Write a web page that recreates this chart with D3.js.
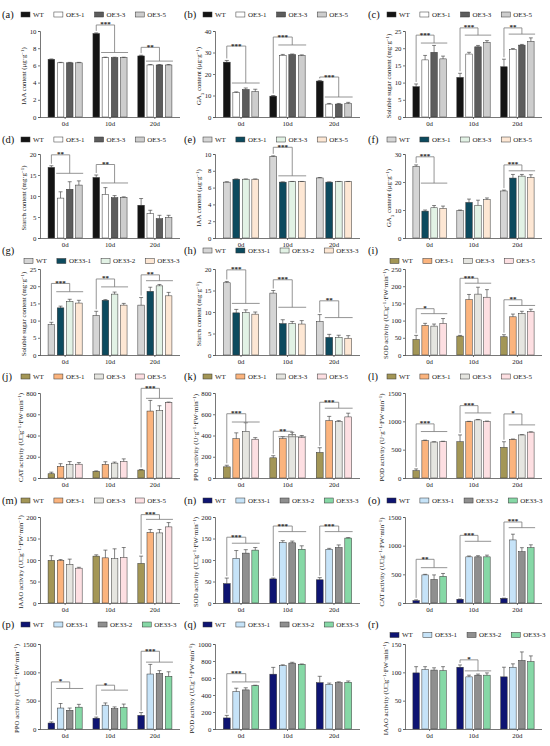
<!DOCTYPE html>
<html>
<head>
<meta charset="utf-8">
<script src="https://cdn.jsdelivr.net/npm/d3@7/dist/d3.min.js"></script>
<style>
  body { margin: 0; background: #fff; }
  svg { display: block; }
  text { font-family: "Liberation Serif", "Times New Roman", serif; }
</style>
</head>
<body>
<svg id="fig" width="550" height="746"></svg>
<script>
// Grupos e linhagens
const days = ["0d", "10d", "20d"];
const linesOE3 = ["WT", "OE3-1", "OE3-3", "OE3-5"];
const linesOE33 = ["WT", "OE33-1", "OE33-2", "OE33-3"];

// Valores por painel: [dia][linhagem]
const iaaGray = [[6.7, 6.3, 6.3, 6.3], [9.7, 6.9, 6.9, 6.9], [7.1, 6.05, 6.05, 6.05]];
const iaaGrayErr = [[0.05, 0.05, 0.05, 0.05], [0.08, 0.05, 0.05, 0.05], [0.08, 0.05, 0.05, 0.05]];
const ga3Gray = [[25.5, 11.3, 12.8, 11.8], [9.7, 28.7, 29.0, 28.6], [16.7, 6.0, 6.0, 6.2]];
const ga3GrayErr = [[0.8, 0.4, 0.7, 1.1], [0.3, 0.4, 0.3, 0.3], [0.3, 0.3, 0.3, 0.6]];
const sugarGray = [[8.8, 16.6, 18.8, 16.9], [11.5, 18.3, 20.4, 21.7], [14.6, 19.6, 20.9, 22.0]];
const sugarGrayErr = [[0.8, 1.3, 2.0, 0.8], [1.2, 0.5, 0.4, 0.5], [2.2, 0.3, 0.2, 1.0]];
const starchGray = [[16.8, 9.5, 11.6, 12.6], [14.4, 10.4, 9.6, 9.7], [7.8, 5.8, 4.6, 4.9]];
const starchGrayErr = [[0.4, 1.5, 1.8, 1.0], [0.6, 1.6, 0.5, 0.1], [1.6, 0.8, 0.8, 0.5]];
const iaaTeal = [[6.65, 7.0, 7.0, 7.0], [9.7, 6.65, 6.7, 6.7], [7.15, 6.65, 6.7, 6.7]];
const iaaTealErr = [[0.05, 0.03, 0.03, 0.03], [0.08, 0.03, 0.03, 0.03], [0.05, 0.03, 0.03, 0.03]];
const ga3Teal = [[25.6, 9.6, 10.8, 10.6], [9.8, 12.7, 11.7, 13.7], [16.8, 21.4, 22.1, 21.6]];
const ga3TealErr = [[0.5, 0.4, 0.8, 0.8], [0.2, 1.2, 1.8, 0.6], [0.3, 1.3, 0.6, 1.0]];
const sugarTeal = [[8.8, 13.7, 15.6, 15.1], [11.5, 15.9, 17.7, 14.5], [14.5, 18.5, 20.1, 17.2]];
const sugarTealErr = [[0.7, 0.5, 0.6, 0.8], [1.2, 0.2, 0.6, 0.5], [2.2, 1.2, 0.4, 1.0]];
const starchTeal = [[16.8, 9.8, 9.9, 9.5], [14.4, 7.3, 7.3, 7.2], [7.8, 4.1, 4.1, 3.9]];
const starchTealErr = [[0.3, 0.8, 0.6, 0.5], [0.6, 0.9, 0.5, 0.8], [1.6, 0.7, 0.5, 0.6]];
const sodOlive = [[45, 86, 84, 92], [55, 161, 177, 168], [53, 111, 121, 127]];
const sodOliveErr = [[12, 6, 6, 14], [2, 15, 20, 22], [6, 8, 6, 6]];
const catOlive = [[40, 110, 125, 130], [62, 128, 140, 155], [75, 630, 635, 710]];
const catOliveErr = [[15, 25, 30, 15], [5, 25, 10, 25], [5, 100, 45, 5]];
const ppoOlive = [[105, 370, 440, 365], [190, 370, 410, 380], [240, 540, 530, 575]];
const ppoOliveErr = [[15, 55, 80, 15], [20, 20, 20, 20], [45, 40, 10, 35]];
const podOlive = [[130, 660, 635, 640], [640, 995, 1025, 1000], [540, 680, 760, 810]];
const podOliveErr = [[30, 8, 5, 8], [120, 5, 8, 5], [100, 8, 5, 5]];
const iaaoOlive = [[99, 99, 90, 81], [109, 105, 103, 106], [92, 164, 163, 177]];
const iaaoOliveErr = [[11, 2, 12, 2], [3, 18, 23, 23], [17, 7, 8, 10]];
const sodNavy = [[45, 104, 116, 123], [56, 141, 140, 125], [54, 125, 129, 151]];
const sodNavyErr = [[13, 18, 8, 6], [2, 4, 4, 8], [5, 2, 6, 1]];
const catNavy = [[40, 490, 410, 465], [65, 805, 805, 805], [80, 1100, 895, 965]];
const catNavyErr = [[15, 10, 80, 50], [5, 15, 20, 30], [5, 100, 70, 50]];
const ppoNavy = [[105, 370, 330, 385], [190, 420, 360, 380], [240, 970, 980, 930]];
const ppoNavyErr = [[20, 80, 40, 50], [20, 40, 30, 60], [50, 170, 50, 80]];
const podNavy = [[130, 440, 460, 510], [645, 745, 775, 760], [545, 525, 545, 550]];
const podNavyErr = [[30, 40, 25, 5], [80, 10, 10, 5], [75, 15, 10, 15]];
const iaaoNavy = [[99, 105, 104, 103], [109, 92, 95, 95], [92, 109, 121, 119]];
const iaaoNavyErr = [[11, 5, 4, 7], [4, 3, 2, 4], [17, 6, 15, 10]];

// Marcas de significância: [dia, topo, linha OE, estrelas]
const sigA = [[1, 10.7, 7.5, "***"], [2, 8.1, 6.5, "**"]];
const sigB = [[0, 33, 15.8, "***"], [1, 37.2, 33.5, "***"], [2, 18.6, 9.3, "***"]];
const sigC = [[0, 23.8, 21.5, "***"], [1, 25.9, 23.8, "***"], [2, 25.9, 24.1, "**"]];
const sigD = [[0, 19.8, 15.4, "**"], [1, 17.5, 13.1, "**"]];
const sigE = [[1, 10.8, 7.4, "***"]];
const sigF = [[0, 29.0, 19.6, "***"], [2, 26.1, 24.0, "***"]];
const sigG = [[0, 20.8, 18.4, "***"], [1, 22.1, 19.8, "**"], [2, 23.3, 21.6, "**"]];
const sigH = [[0, 19.8, 12.0, "***"], [1, 17.5, 11.1, "***"], [2, 12.6, 8.7, "**"]];
const sigI = [[0, 134.6, 120.2, "*"], [1, 223, 208.7, "***"], [2, 160.6, 144, "**"]];
const sigJ = [[2, 844, 750, "***"]];
const sigK = [[0, 605, 527, "***"], [1, 440, 388, "**"], [2, 713, 657, "***"]];
const sigL = [[0, 955, 820, "***"], [1, 1277, 1148, "***"], [2, 1131, 937, "*"]];
const sigM = [[2, 205.5, 194.5, "***"]];
const sigN = [[0, 153, 139, "***"], [1, 179, 166, "***"], [2, 179, 166, "***"]];
const sigO = [[0, 762, 616, "**"], [1, 1180, 1076, "***"], [2, 1413, 1314, "***"]];
const sigP = [[0, 831, 715, "*"], [1, 773, 686, "*"], [2, 1372, 1180, "***"]];
const sigQ = [[0, 651, 554, "***"]];
const sigR = [[1, 122, 102.6, "*"]];

// Ticks do eixo y
const ticks10 = [0, 2, 4, 6, 8, 10];
const ticks40 = [0, 10, 20, 30, 40];
const ticks25 = [0, 5, 10, 15, 20, 25];
const ticks20 = [0, 5, 10, 15, 20];
const ticks30 = [0, 10, 20, 30];
const ticks250 = [0, 50, 100, 150, 200, 250];
const ticks800 = [0, 200, 400, 600, 800];
const ticks1500 = [0, 500, 1000, 1500];
const ticks200 = [0, 50, 100, 150, 200];
const ticks1000 = [0, 200, 400, 600, 800, 1000];
const ticks150 = [0, 50, 100, 150];

// Paletas
const grayFill = ["#141414", "#ffffff", "#5c5c5c", "#cdcdcd"];
const tealFill = ["#d5d5d5", "#0c4a5e", "#e2f2e5", "#fde7d4"];
const oliveFill = ["#a39656", "#fbb47e", "#e5e5e0", "#fddfe2"];
const navyFill = ["#0e1472", "#c6e3f8", "#8f8f8f", "#86d8a6"];

const uLabel = "U□g^{−1}·FW·min^{−1}";
const panels = [
  { tag: "(a)", v: iaaGray, e: iaaGrayErr, sig: sigA, ticks: ticks10, lines: linesOE3, fill: grayFill, yl: "IAA content (μg·g^{−1})" },
  { tag: "(b)", v: ga3Gray, e: ga3GrayErr, sig: sigB, ticks: ticks40, lines: linesOE3, fill: grayFill, yl: "GA_{3} content (μg·g^{−1})" },
  { tag: "(c)", v: sugarGray, e: sugarGrayErr, sig: sigC, ticks: ticks25, lines: linesOE3, fill: grayFill, yl: "Soluble sugar content (mg·g^{−1})" },
  { tag: "(d)", v: starchGray, e: starchGrayErr, sig: sigD, ticks: ticks20, lines: linesOE3, fill: grayFill, yl: "Starch content (mg·g^{−1})" },
  { tag: "(e)", v: iaaTeal, e: iaaTealErr, sig: sigE, ticks: ticks10, lines: linesOE3, fill: tealFill, yl: "IAA content (μg·g^{−1})" },
  { tag: "(f)", v: ga3Teal, e: ga3TealErr, sig: sigF, ticks: ticks30, lines: linesOE3, fill: tealFill, yl: "GA_{3} content (μg·g^{−1})" },
  { tag: "(g)", v: sugarTeal, e: sugarTealErr, sig: sigG, ticks: ticks25, lines: linesOE33, fill: tealFill, yl: "Soluble sugar content (mg·g^{−1})", twoLine: true },
  { tag: "(h)", v: starchTeal, e: starchTealErr, sig: sigH, ticks: ticks20, lines: linesOE33, fill: tealFill, yl: "Starch content (mg·g^{−1})" },
  { tag: "(i)", v: sodOlive, e: sodOliveErr, sig: sigI, ticks: ticks250, lines: linesOE3, fill: oliveFill, yl: "SOD activity (" + uLabel + ")", twoLine: true },
  { tag: "(j)", v: catOlive, e: catOliveErr, sig: sigJ, ticks: ticks800, lines: linesOE3, fill: oliveFill, yl: "CAT activity (" + uLabel + ")" },
  { tag: "(k)", v: ppoOlive, e: ppoOliveErr, sig: sigK, ticks: ticks800, lines: linesOE3, fill: oliveFill, yl: "PPO activity (U·g^{−1}·FW·min^{−1})" },
  { tag: "(l)", v: podOlive, e: podOliveErr, sig: sigL, ticks: ticks1500, lines: linesOE3, fill: oliveFill, yl: "POD activity (U·g^{−1}·FW·min^{−1})" },
  { tag: "(m)", v: iaaoOlive, e: iaaoOliveErr, sig: sigM, ticks: ticks200, lines: linesOE3, fill: oliveFill, yl: "IAAO activity (" + uLabel + ")" },
  { tag: "(n)", v: sodNavy, e: sodNavyErr, sig: sigN, ticks: ticks200, lines: linesOE33, fill: navyFill, yl: "SOD activity (" + uLabel + ")" },
  { tag: "(o)", v: catNavy, e: catNavyErr, sig: sigO, ticks: ticks1500, lines: linesOE33, fill: navyFill, yl: "CAT activity (" + uLabel + ")" },
  { tag: "(p)", v: ppoNavy, e: ppoNavyErr, sig: sigP, ticks: ticks1500, lines: linesOE33, fill: navyFill, yl: "PPO activity (" + uLabel + ")" },
  { tag: "(q)", v: podNavy, e: podNavyErr, sig: sigQ, ticks: ticks1000, lines: linesOE33, fill: navyFill, yl: "POD activity (" + uLabel + ")" },
  { tag: "(r)", v: iaaoNavy, e: iaaoNavyErr, sig: sigR, ticks: ticks150, lines: linesOE33, fill: navyFill, yl: "IAAO activity (" + uLabel + ")", twoLine: true },
];

// Layout da grade 3 x 6
const colStart = [2, 184, 368];
const colLeft = [40, 215, 405];
const colRight = [180, 360, 542];
const rowTop = [31, 154, 269, 393, 517, 644];
const rowBottom = [117, 238, 355, 478, 603, 729];
const rowLabel = [18, 143, 254, 380, 504, 628];

const axisColor = "#555";
const svg = d3.select("#fig");

// Texto com ^{sup} e _{sub}
function richText(sel, str) {
  const re = /([\^_])\{([^}]*)\}/g;
  let last = 0, m;
  while ((m = re.exec(str))) {
    if (m.index > last) sel.append("tspan").text(str.slice(last, m.index));
    sel.append("tspan")
      .attr("baseline-shift", m[1] === "^" ? "super" : "sub")
      .attr("font-size", "72%")
      .text(m[2]);
    last = re.lastIndex;
  }
  if (last < str.length) sel.append("tspan").text(str.slice(last));
}

function drawPanel(p, k) {
  const col = k % 3, row = Math.floor(k / 3);
  const x0 = d3.scaleBand().domain(days).range([colLeft[col], colRight[col]]).paddingInner(0.24).paddingOuter(0.18);
  const x1 = d3.scaleBand().domain(d3.range(4)).range([0, x0.bandwidth()]).paddingInner(0.28);
  const y = d3.scaleLinear().domain([0, d3.max(p.ticks)]).range([rowBottom[row], rowTop[row]]);
  const g = svg.append("g");
  const bars = (d, i) => p.v[i].map((val, j) => ({ val, err: p.e[i][j], j }));

  // Barras
  const grp = g.selectAll(".grp").data(days).enter().append("g")
    .attr("transform", (d) => `translate(${x0(d)},0)`);
  grp.selectAll("rect")
    .data(bars)
    .enter().append("rect")
    .attr("x", (d) => x1(d.j))
    .attr("y", (d) => y(d.val))
    .attr("width", x1.bandwidth())
    .attr("height", (d) => y(0) - y(d.val))
    .attr("fill", (d) => p.fill[d.j])
    .attr("stroke", "#333")
    .attr("stroke-width", 0.5);

  // Barras de erro (só para cima)
  const eb = grp.selectAll(".eb").data(bars).enter().append("g").attr("class", "eb");
  eb.append("line")
    .attr("x1", (d) => x1(d.j) + x1.bandwidth() / 2)
    .attr("x2", (d) => x1(d.j) + x1.bandwidth() / 2)
    .attr("y1", (d) => y(d.val))
    .attr("y2", (d) => y(d.val + d.err))
    .attr("stroke", "#333").attr("stroke-width", 0.6);
  eb.append("line")
    .attr("x1", (d) => x1(d.j) + x1.bandwidth() * 0.2)
    .attr("x2", (d) => x1(d.j) + x1.bandwidth() * 0.8)
    .attr("y1", (d) => y(d.val + d.err))
    .attr("y2", (d) => y(d.val + d.err))
    .attr("stroke", "#333").attr("stroke-width", 0.6);

  // Eixos
  const yAxis = g.append("g")
    .attr("transform", `translate(${colLeft[col]},0)`)
    .call(d3.axisLeft(y).tickValues(p.ticks).tickSize(2).tickPadding(1.5).tickFormat(d3.format("d")));
  const xAxis = g.append("g")
    .attr("transform", `translate(0,${rowBottom[row]})`)
    .call(d3.axisBottom(x0).tickSize(2).tickPadding(2.5));
  [yAxis, xAxis].forEach((ax) => {
    ax.select(".domain").attr("stroke", axisColor).attr("stroke-width", 0.8);
    ax.selectAll(".tick line").attr("stroke", axisColor).attr("stroke-width", 0.8);
    ax.selectAll("text").attr("fill", "#222").attr("font-size", 6.8)
      .attr("font-family", "Liberation Serif, serif");
  });
  xAxis.select(".domain").attr("d", `M${colLeft[col]},0.5H${colRight[col]}`);

  let tw = 0;
  yAxis.selectAll("text").each(function () { tw = Math.max(tw, this.getComputedTextLength()); });

  // Rótulo do eixo y
  const cy = (rowTop[row] + rowBottom[row]) / 2 + 2;
  const yl = g.append("text")
    .attr("transform", `translate(${colLeft[col] - tw - 7},${cy}) rotate(-90)`)
    .attr("text-anchor", "middle")
    .attr("font-size", 6.8)
    .attr("fill", "#222");
  richText(yl, p.yl);

  // Colchetes de significância
  p.sig.forEach(([di, top, low, mark]) => {
    const gx = x0(days[di]);
    const xWT = gx + x1(0) + x1.bandwidth() / 2;
    const oeL = gx + x1(1) - 1;
    const oeR = gx + x1(3) + x1.bandwidth() + 1;
    const xMid = (oeL + oeR) / 2;
    const wtTop = y(p.v[di][0] + p.e[di][0]) - 2;
    g.append("path")
      .attr("d", `M${xWT},${wtTop}V${y(top)}H${xMid}V${y(low)}M${oeL},${y(low)}H${oeR}`)
      .attr("fill", "none").attr("stroke", "#7a7a7a").attr("stroke-width", 0.8);
    g.append("text")
      .attr("x", (xWT + xMid) / 2).attr("y", y(top) + 1.5)
      .attr("text-anchor", "middle").attr("font-size", 7).attr("font-weight", "bold")
      .attr("fill", "#222").text(mark);
  });

  // Letra do painel
  g.append("text")
    .attr("x", colStart[col]).attr("y", rowLabel[row])
    .attr("font-size", 10.5).attr("fill", "#111").text(p.tag);

  // Legenda
  const ly = p.twoLine ? rowLabel[row] + 7 : rowLabel[row] - 3.5;
  let lx = colStart[col] + (p.twoLine ? 22 : 19);
  p.lines.forEach((name, j) => {
    g.append("rect")
      .attr("x", lx).attr("y", ly - 2.5).attr("width", 9).attr("height", 5)
      .attr("fill", p.fill[j]).attr("stroke", "#333").attr("stroke-width", 0.5);
    const t = g.append("text")
      .attr("x", lx + 12).attr("y", ly + 2.3)
      .attr("font-size", 7).attr("fill", "#222").text(name);
    lx += 12 + t.node().getComputedTextLength() + 10;
  });
}

panels.forEach(drawPanel);
</script>
</body>
</html>
